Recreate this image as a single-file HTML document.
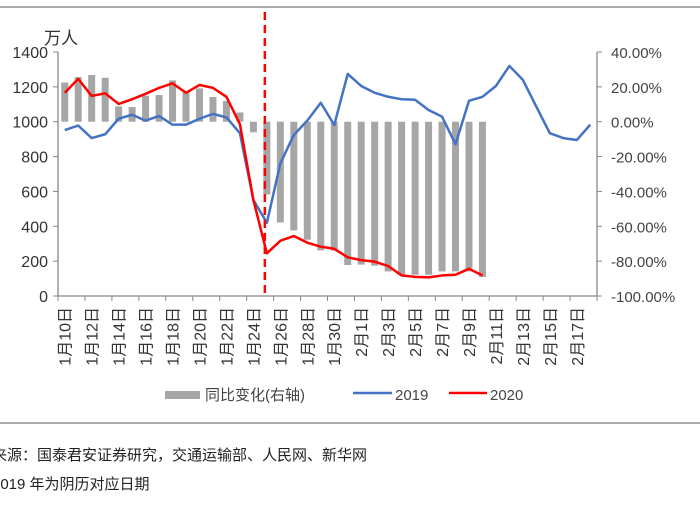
<!DOCTYPE html>
<html><head><meta charset="utf-8"><style>
body{margin:0;background:#fff;width:700px;height:500px;overflow:hidden;font-family:"Liberation Sans","Noto Sans CJK SC",sans-serif;}
svg text{font-family:"Liberation Sans","Noto Sans CJK SC",sans-serif;}
</style></head><body>
<svg id="c" width="700" height="500" xmlns="http://www.w3.org/2000/svg">
<line x1="0" y1="7" x2="700" y2="7" stroke="#555" stroke-width="1"/>
<line x1="0" y1="423" x2="700" y2="423" stroke="#555" stroke-width="1"/>
<text x="44" y="44" font-size="17" fill="#333">万人</text>
<g id="grid"></g><g id="bars"></g><g id="lines"></g><g id="axes"></g>
<g>
<rect x="165" y="391" width="35" height="8" fill="#a6a6a6"/>
<text x="205" y="400" font-size="15" fill="#444">同比变化(右轴)</text>
<line x1="353" y1="393" x2="392" y2="393" stroke="#4472c4" stroke-width="2.5"/>
<text x="395" y="400" font-size="15" fill="#444">2019</text>
<line x1="449" y1="393" x2="487" y2="393" stroke="#ff0000" stroke-width="2.5"/>
<text x="490" y="400" font-size="15" fill="#444">2020</text>
</g>
<text x="-8" y="460" font-size="15" fill="#222">来源：国泰君安证券研究，交通运输部、人民网、新华网</text>
<text x="-8" y="489" font-size="15" fill="#222">2019 年为阴历对应日期</text>
</svg>
<script>
const categories=[];for(let d=10;d<=31;d++)categories.push('1月'+d+'日');for(let d=1;d<=18;d++)categories.push('2月'+d+'日');
const yoy=[22.5,25.6,26.8,25.2,8.8,8.4,14.9,15.3,23.7,16.8,19.1,14.2,11.9,5.3,-6.1,-41.7,-57.8,-62.4,-67.7,-73.8,-74,-82.2,-82,-82.6,-85.9,-87.8,-87.8,-87.8,-85.9,-85.9,-85.9,-89.1];
const s2019=[952,978,906,928,1017,1040,1006,1033,983,983,1017,1045,1025,934,551,420,761,924,1006,1109,981,1274,1205,1166,1143,1129,1126,1067,1029,871,1120,1143,1205,1320,1240,1086,934,906,895,983];
const s2020=[1166,1246,1148,1163,1102,1129,1160,1194,1220,1166,1211,1194,1143,986,551,245,317,344,306,283,271,222,206,197,172,118,110,107,118,122,156,118];
const leftTicks=[0,200,400,600,800,1000,1200,1400];
const rightTicks=[-100,-80,-60,-40,-20,0,20,40];
const NS='http://www.w3.org/2000/svg';
const X0=58,X1=597,Y0=296,Y1=52;
const bw=(X1-X0)/categories.length;
const xs=i=>X0+(i+0.5)*bw;
const yl=v=>Y0-(v/1400)*(Y0-Y1);
const yr=p=>Y0-((p+100)/140)*(Y0-Y1);
function mk(tag,attrs,parent){const e=document.createElementNS(NS,tag);for(const k in attrs)e.setAttribute(k,attrs[k]);document.getElementById(parent).appendChild(e);return e;}
yoy.forEach((p,i)=>{const a=yr(0),b=yr(p);
const r=mk('rect',{x:xs(i)-3.5,y:Math.min(a,b),width:7,height:Math.abs(b-a),fill:'#a6a6a6'},'bars');

});
function line(arr,color,name){const p=mk('polyline',{points:arr.map((v,i)=>xs(i)+','+yl(v)).join(' '),fill:'none',stroke:color,'stroke-width':2.5,'stroke-linejoin':'round'},'lines');

}
line(s2019,'#4472c4','line-2019');line(s2020,'#ff0000','line-2020');
const dl=mk('line',{x1:xs(14.85),x2:xs(14.85),y1:12,y2:293,stroke:'#ff0000','stroke-width':2.5,'stroke-dasharray':'8,5'},'lines');


const ax=[[X0,Y1,X0,Y0],[X0,Y0,X1,Y0],[X1,Y1,X1,Y0]];
ax.forEach(a=>{const l=mk('line',{x1:a[0],y1:a[1],x2:a[2],y2:a[3],stroke:'#888','stroke-width':1.3},'axes');

});
leftTicks.forEach(v=>{mk('line',{x1:X0-5,x2:X0,y1:yl(v),y2:yl(v),stroke:'#888'},'axes');
const t=mk('text',{x:48,y:yl(v)+6,'text-anchor':'end','font-size':16,fill:'#333'},'axes');t.textContent=v;

});
rightTicks.forEach(p=>{mk('line',{x1:X1,x2:X1+5,y1:yr(p),y2:yr(p),stroke:'#888'},'axes');
const t=mk('text',{x:611,y:yr(p)+6,'font-size':15,fill:'#444'},'axes');t.textContent=p.toFixed(2)+'%';

});
for(let k=0;k<=categories.length;k+=2){mk('line',{x1:X0+k*bw,x2:X0+k*bw,y1:Y0,y2:Y0+5,stroke:'#888'},'axes');}
categories.forEach((c,i)=>{if(i%2)return;const x=xs(i)+6,y=307;
const t=mk('text',{x:x,y:y,transform:'rotate(-90 '+x+' '+y+')','text-anchor':'end','font-size':16,fill:'#333'},'axes');t.textContent=c;

});
</script>
</body></html>
